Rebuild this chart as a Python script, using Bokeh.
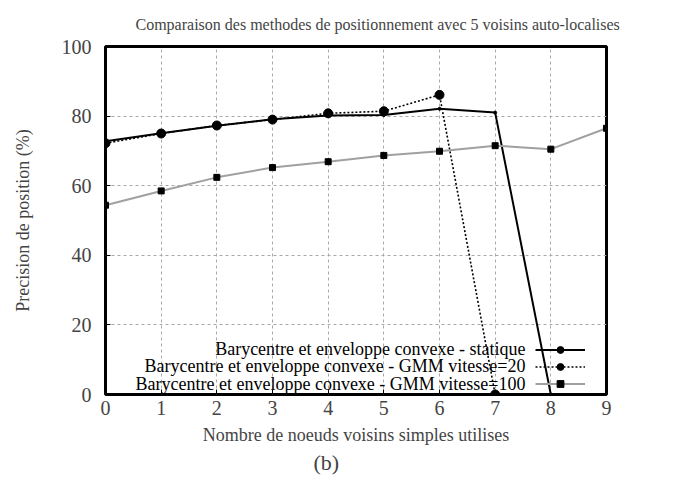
from bokeh.plotting import figure
from bokeh.models import Range1d, Legend, LegendItem, Title, FixedTicker, Label
from bokeh.embed import file_html
from bokeh.resources import INLINE

x_static = [0, 1, 2, 3, 4, 5, 6, 7, 8]
y_static = [72.8, 75.1, 77.2, 79.1, 80.2, 80.3, 82.1, 81.0, 0]

x_gmm20 = [0, 1, 2, 3, 4, 5, 6, 7]
y_gmm20 = [72.2, 75.0, 77.3, 79.0, 80.8, 81.4, 86.1, 0]

x_gmm100 = [0, 1, 2, 3, 4, 5, 6, 7, 8, 9]
y_gmm100 = [54.4, 58.5, 62.4, 65.2, 66.9, 68.7, 69.9, 71.5, 70.5, 76.5]

labels = ["Barycentre et enveloppe convexe - statique",
          "Barycentre et enveloppe convexe - GMM vitesse=20",
          "Barycentre et enveloppe convexe - GMM vitesse=100"]

x_ticks = [0, 1, 2, 3, 4, 5, 6, 7, 8, 9]
y_ticks = [0, 20, 40, 60, 80, 100]

FONT = "Liberation Serif"

p = figure(width=668, height=477, output_backend="svg", toolbar_location=None,
           x_range=Range1d(0, 9), y_range=Range1d(0, 100),
           min_border_left=105, min_border_right=62, min_border_top=43, min_border_bottom=83)

p.title.text = "Comparaison des methodes de positionnement avec 5 voisins auto-localises"
p.title.text_font = FONT
p.title.text_font_style = "normal"
p.title.text_font_size = "16px"
p.title.align = "left"
p.title.offset = 30
p.title.standoff = 27

p.add_layout(Title(text="(b)", align="left", text_font=FONT, text_font_size="22px",
                   text_font_style="normal", offset=208, standoff=0), "below")

p.outline_line_color = "black"
p.outline_line_width = 3
p.outline_line_alpha = 1

for ax in (p.xaxis[0], p.yaxis[0]):
    ax.axis_line_color = None
    ax.major_tick_in = 5
    ax.major_tick_out = 0
    ax.minor_tick_line_color = None
    ax.major_tick_line_color = "black"
    ax.major_label_text_font = FONT
    ax.major_label_text_font_size = "20px"
    ax.axis_label_text_font = FONT
    ax.axis_label_text_font_style = "normal"
    ax.axis_label_text_font_size = "18px"

p.xaxis.ticker = FixedTicker(ticks=x_ticks)
p.yaxis.ticker = FixedTicker(ticks=y_ticks)
p.xaxis.axis_label = "Nombre de noeuds voisins simples utilises"
p.yaxis.axis_label = "Precision de position (%)"
p.xaxis.major_label_standoff = 6
p.yaxis.major_label_standoff = 14
p.xaxis.axis_label_standoff = 7
p.yaxis.axis_label_standoff = 26

p.grid.grid_line_color = "#a8a8a8"
p.grid.grid_line_dash = "3 3"
p.grid.grid_line_width = 1

l1 = p.line(x_static, y_static, line_color="black", line_width=2)
m1 = p.scatter(x_static, y_static, marker="circle", size=3, color="black")

l2 = p.line(x_gmm20, y_gmm20, line_color="black", line_width=1.6, line_dash="2 2")
m2 = p.scatter(x_gmm20, y_gmm20, marker="circle", size=9, color="black")

l3 = p.line(x_gmm100, y_gmm100, line_color="#a0a0a0", line_width=2)
m3 = p.scatter(x_gmm100, y_gmm100, marker="square", size=6, color="black")

# legend: glyph samples on the right (gnuplot style), right-aligned texts on their left
glyph_legend = Legend(items=[LegendItem(label=" ", renderers=[l1, m1]),
                             LegendItem(label=" ", renderers=[l2, m2]),
                             LegendItem(label=" ", renderers=[l3, m3])],
                      location=(430, 2))
glyph_legend.background_fill_alpha = 0
glyph_legend.border_line_color = None
glyph_legend.label_text_font = FONT
glyph_legend.label_text_font_size = "18px"
glyph_legend.label_height = 17
glyph_legend.glyph_height = 17
glyph_legend.glyph_width = 50
glyph_legend.label_standoff = 0
glyph_legend.spacing = -2
glyph_legend.padding = 0
glyph_legend.margin = 0
p.add_layout(glyph_legend)

LEGEND_TEXT_X = 7.545          # right edge of legend texts (axis units)
LEGEND_TEXT_Y = [13.2, 8.1, 3.0]
for t, ty in zip(labels, LEGEND_TEXT_Y):
    p.add_layout(Label(x=LEGEND_TEXT_X, y=ty, text=t, text_align="right",
                       text_baseline="middle", text_font=FONT, text_font_size="18px",
                       text_color="black"))

open("out.html", "w").write(file_html(p, INLINE))
